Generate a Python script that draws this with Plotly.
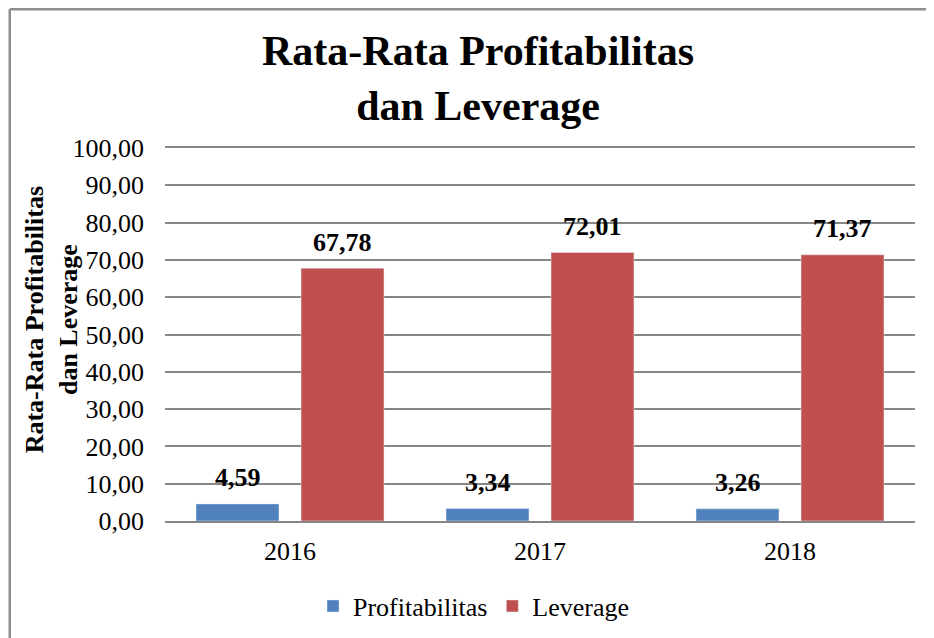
import plotly.graph_objects as go

years = ["2016", "2017", "2018"]
profitabilitas = [4.59, 3.34, 3.26]
leverage = [67.78, 72.01, 71.37]

SERIF = "Liberation Serif, Times New Roman, serif"
BARGAP = 0.16


def fmt(v):
    # indonesian decimal comma
    return f"{v:.2f}".replace(".", ",")


fig = go.Figure()
fig.add_trace(go.Bar(name="Profitabilitas", x=years, y=profitabilitas,
                     marker_color="#4F81BD"))
fig.add_trace(go.Bar(name="Leverage", x=years, y=leverage,
                     marker_color="#C0504D"))

# value labels sit a bit higher above the bars than plotly's "outside" text
half = (1 - BARGAP) / 4
for sign, vals in ((-1, profitabilitas), (1, leverage)):
    for i, v in enumerate(vals):
        fig.add_annotation(x=i + sign * half, y=v, xref="x", yref="y",
                           text="<b>" + fmt(v) + "</b>", showarrow=False,
                           yanchor="middle", yshift=26,
                           font=dict(size=26, family=SERIF, color="black"))

# page body has an 8px margin: shrink the figure by 8 so no scrollbars appear
fig.update_layout(
    width=926, height=630,
    margin=dict(l=157, r=19, t=140, b=117, autoexpand=False),
    paper_bgcolor="white", plot_bgcolor="white",
    font=dict(family=SERIF, size=26, color="black"),
    separators=",.",
    barmode="group", bargap=BARGAP, bargroupgap=0.21,
    title=dict(text="<b>Rata-Rata Profitabilitas<br>dan Leverage</b>",
               x=0.5076, xanchor="center", y=0.909, yanchor="middle",
               font=dict(size=42, family=SERIF, color="black")),
    legend=dict(orientation="h", x=0.412, xanchor="center", y=-0.228, yanchor="middle",
                font=dict(size=26), itemwidth=30, traceorder="normal"),
)

fig.update_yaxes(range=[0, 100], dtick=10, tickformat=".2f",
                 showgrid=True, gridcolor="#868686", gridwidth=2,
                 zeroline=False, showline=False, ticklabelstandoff=20,
                 tickfont=dict(size=26))
# mirror line stands in for the 100 gridline that plotly drops at the edge
fig.update_xaxes(showline=True, mirror=True, linecolor="#868686", linewidth=2,
                 ticklabelstandoff=6, tickfont=dict(size=26))

# y-axis title, sits partly over the tick labels like the original
fig.add_annotation(text="<b>Rata-Rata Profitabilitas<br>dan Leverage</b>",
                   xref="paper", yref="paper", x=-0.151, y=0.54,
                   xanchor="center", yanchor="middle",
                   textangle=-90, showarrow=False,
                   font=dict(size=26, family=SERIF, color="black"))

# chart border: only top and left edges are inside the picture
border = dict(color="#8c8c8c", width=2.5)
fig.add_shape(type="line", xref="paper", yref="paper",
              x0=-0.207, x1=1.3, y0=1.372, y1=1.372, line=border)
fig.add_shape(type="line", xref="paper", yref="paper",
              x0=-0.207, x1=-0.207, y0=-0.5, y1=1.372, line=border)

fig.write_html("out.html")
